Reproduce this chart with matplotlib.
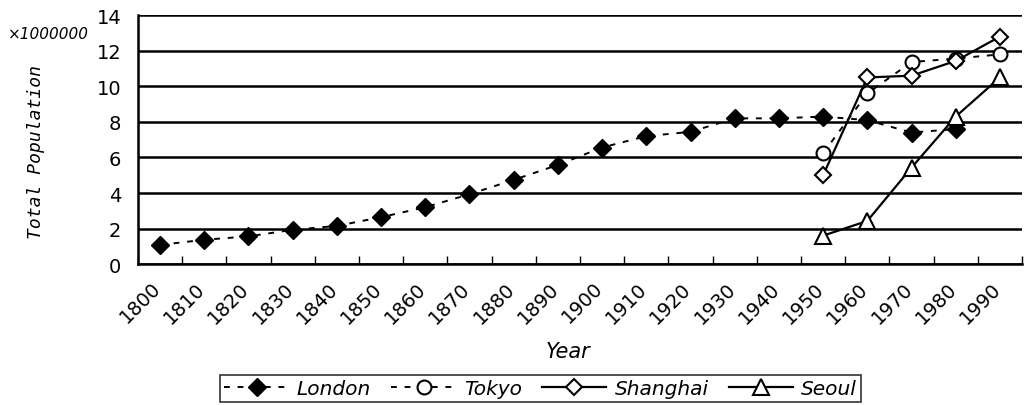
import matplotlib
matplotlib.use("Agg")
import matplotlib.pyplot as plt
import numpy as np

years = [str(y) for y in range(1800, 2000, 10)]
london = [1.08, 1.37, 1.56, 1.93, 2.15, 2.64, 3.2, 3.93, 4.74, 5.58,
          6.56, 7.2, 7.44, 8.2, 8.2, 8.3, 8.1, 7.4, 7.6]
tokyo = [6.24, 9.6, 11.37, 11.56, 11.8]
shanghai = [5.0, 10.5, 10.6, 11.43, 12.8]
seoul = [1.6, 2.43, 5.43, 8.3, 10.5]

plt.rcParams["font.family"] = ["DejaVu Sans"]

fig = plt.figure(figsize=(10.28, 4.06), dpi=100)
ax = fig.add_axes([0.1342, 0.347, 0.86, 0.613])

x = np.arange(len(years))
xl = x[-5:]

ax.plot(x[:len(london)], london, ls=(0, (3, 4)), color="black", lw=1.4,
        marker="D", ms=9, mfc="black", mec="black", label="London")
ax.plot(xl, tokyo, ls=(0, (3, 4)), color="black", lw=1.4,
        marker="o", ms=10, mfc="white", mec="black", mew=1.5, label="Tokyo")
ax.plot(xl, shanghai, ls="-", color="black", lw=1.6,
        marker="D", ms=8, mfc="white", mec="black", mew=1.5, label="Shanghai")
ax.plot(xl, seoul, ls="-", color="black", lw=1.6,
        marker="^", ms=11, mfc="white", mec="black", mew=1.5, label="Seoul")

ax.set_xlim(-0.5, len(years) - 0.5)
ax.set_ylim(0, 14)
ax.set_yticks(range(0, 15, 2))
ax.yaxis.grid(True, color="black", lw=1.8)
ax.set_axisbelow(True)

# labels sit a bit left of the category centre, like the original
ax.set_xticks(x - 0.2)
ax.set_xticklabels(years, rotation=45, ha="right", rotation_mode="anchor",
                   fontsize=14)
ax.tick_params(axis="x", which="major", length=0, pad=10)
ax.set_xticks(np.arange(-0.5, len(years), 1), minor=True)
ax.tick_params(axis="x", which="minor", direction="in", length=6, width=1)
ax.tick_params(axis="y", length=0, labelsize=14, pad=12)

for s in ["top", "right"]:
    ax.spines[s].set_visible(False)
ax.spines["left"].set_linewidth(1.8)
ax.spines["bottom"].set_linewidth(1.8)

ax.set_xlabel("Year", fontsize=15, style="italic")
ax.xaxis.set_label_coords(0.487, -0.31)
ax.set_ylabel("Total Population", fontsize=13, style="italic",
              family="DejaVu Sans Mono")
ax.yaxis.set_label_coords(-0.105, 0.454)
fig.text(0.008, 0.905, "×1000000", fontsize=11, style="italic")

leg = fig.legend(loc="center", bbox_to_anchor=(0.526, 0.04), ncol=4,
                 frameon=True, fancybox=False, edgecolor="black",
                 prop={"size": 14.5, "style": "italic"}, handlelength=3.2,
                 columnspacing=1.0, handletextpad=0.4, borderpad=0.2)
leg.get_frame().set_linewidth(1.2)

fig.savefig("out.png", dpi=100)
